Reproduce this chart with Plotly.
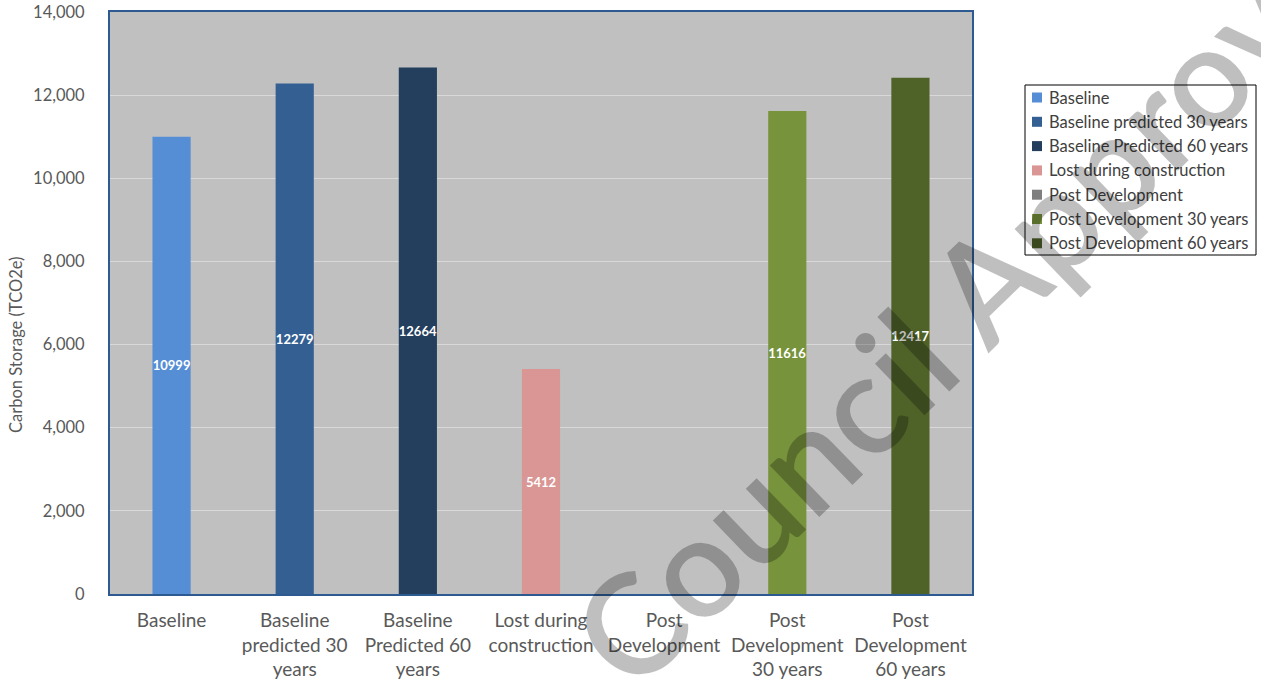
import plotly.graph_objects as go

# Carbon storage per scenario (tonnes CO2e)
categories = [
    "Baseline",
    "Baseline<br>predicted 30<br>years",
    "Baseline<br>Predicted 60<br>years",
    "Lost during<br>construction",
    "Post<br>Development",
    "Post<br>Development<br>30 years",
    "Post<br>Development<br>60 years",
]
series_names = [
    "Baseline",
    "Baseline predicted 30 years",
    "Baseline Predicted 60 years",
    "Lost during construction",
    "Post Development",
    "Post Development 30 years",
    "Post Development 60 years",
]
values = [10999, 12279, 12664, 5412, None, 11616, 12417]
colors = ["#558ED5", "#345F93", "#243E5E", "#D99694", "#7F7F7F", "#77933C", "#4F6228"]
y_ticks = [0, 2000, 4000, 6000, 8000, 10000, 12000, 14000]
y_title = "Carbon Storage (TCO2e)"

FONT = "Lato"
W, H = 1261, 683
M_L, M_R, M_T, M_B = 110, 289, 12, 89
PW, PH = W - M_L - M_R, H - M_T - M_B


def px(xp):
    """Page x (pixels) -> paper x."""
    return (xp - M_L) / PW


def py(yp):
    """Page y (pixels from top) -> paper y."""
    return (H - M_B - yp) / PH


fig = go.Figure()
for cat, name, val, col in zip(categories, series_names, values, colors):
    fig.add_trace(go.Bar(
        x=[cat], y=[val], name=name,
        marker=dict(color=col, line=dict(width=0)),
        width=0.31,
        text=[val if val is not None else ""],
        texttemplate="%{text}",
        textposition="inside",
        insidetextanchor="middle",
        textangle=0,
        constraintext="none",
        textfont=dict(family=FONT, size=13, color="white", weight="bold"),
        hoverinfo="x+y",
        showlegend=False,
    ))

fig.update_layout(
    width=W, height=H,
    margin=dict(l=M_L, r=M_R, t=M_T, b=M_B, pad=0),
    barmode="overlay",
    paper_bgcolor="white",
    plot_bgcolor="#C0C0C0",
    font=dict(family=FONT, color="#595959"),
    showlegend=False,
    xaxis=dict(
        type="category", categoryorder="array", categoryarray=categories,
        showline=True, linecolor="#2E5A92", linewidth=2, mirror=True,
        showgrid=False, ticks="", ticklabelstandoff=8, automargin=False,
        tickfont=dict(family=FONT, size=19, color="#595959"),
    ),
    yaxis=dict(
        range=[0, 14000], tickvals=y_ticks, tickformat=",",
        showline=True, linecolor="#2E5A92", linewidth=2, mirror=True,
        showgrid=True, gridcolor="#D9D9D9", gridwidth=1,
        zeroline=False, ticks="", ticklabelstandoff=20, automargin=False,
        tickfont=dict(family=FONT, size=16.5, color="#595959"),
    ),
)

# Value-axis title, sitting a little below the plot's middle
fig.add_annotation(text=y_title, xref="paper", yref="paper",
                   x=px(16), y=py(345), xanchor="center", yanchor="middle",
                   textangle=-90, showarrow=False,
                   font=dict(family=FONT, size=16.5, color="#595959"))

# Legend box: one swatch + label per series
LEG_X0, LEG_X1, LEG_Y0, LEG_Y1 = 1025, 1256, 85, 255
ROW0, ROW_STEP = 97.5, 24.3
fig.add_shape(type="rect", xref="paper", yref="paper",
              x0=px(LEG_X0), x1=px(LEG_X1), y0=py(LEG_Y1), y1=py(LEG_Y0),
              line=dict(color="#000000", width=1), fillcolor="white", layer="above")
for i, (name, col) in enumerate(zip(series_names, colors)):
    yc = ROW0 + i * ROW_STEP
    fig.add_shape(type="rect", xref="paper", yref="paper",
                  x0=px(1032), x1=px(1042), y0=py(yc + 5), y1=py(yc - 5),
                  line=dict(width=0), fillcolor=col, layer="above")
    fig.add_annotation(text=name, xref="paper", yref="paper",
                       x=px(1047), y=py(yc), xanchor="left", yanchor="middle",
                       showarrow=False,
                       font=dict(family=FONT, size=16.5, color="#404040"))

# Diagonal watermark across the page
fig.add_annotation(
    text="Council Approved", xref="paper", yref="paper",
    x=px(991), y=py(276),
    xanchor="center", yanchor="middle", showarrow=False, textangle=-44,
    font=dict(family="Lato", size=140, weight=600,
              color="rgba(0,0,0,0.25)"),
)

fig.write_html("out.html")
